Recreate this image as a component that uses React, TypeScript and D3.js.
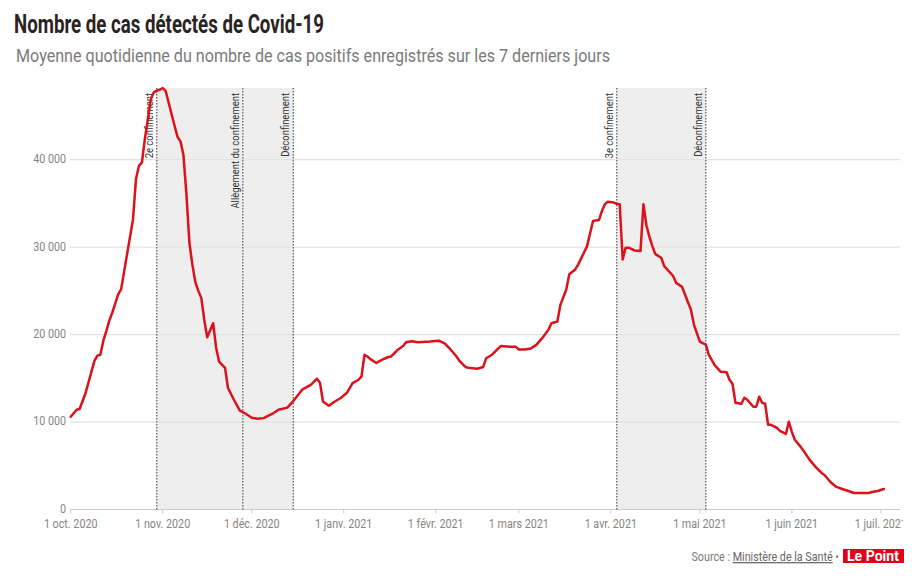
import * as d3 from 'd3';

// 7-day average of positive cases
const dates = [
  '2020-10-01', '2020-10-03', '2020-10-04', '2020-10-06', '2020-10-09', '2020-10-10', '2020-10-11',
  '2020-10-12', '2020-10-13', '2020-10-14', '2020-10-15', '2020-10-17', '2020-10-18', '2020-10-20',
  '2020-10-22', '2020-10-23', '2020-10-24', '2020-10-25', '2020-10-26', '2020-10-28', '2020-10-29',
  '2020-10-30', '2020-10-31', '2020-11-01', '2020-11-02', '2020-11-04', '2020-11-06', '2020-11-07',
  '2020-11-08', '2020-11-09', '2020-11-10', '2020-11-11', '2020-11-12', '2020-11-13', '2020-11-14',
  '2020-11-15', '2020-11-16', '2020-11-18', '2020-11-19', '2020-11-20', '2020-11-22', '2020-11-23',
  '2020-11-25', '2020-11-27', '2020-11-29', '2020-12-01', '2020-12-03', '2020-12-05', '2020-12-08',
  '2020-12-10', '2020-12-13', '2020-12-15', '2020-12-18', '2020-12-21', '2020-12-23', '2020-12-24',
  '2020-12-25', '2020-12-27', '2020-12-29', '2020-12-31', '2021-01-02', '2021-01-04', '2021-01-06',
  '2021-01-07', '2021-01-08', '2021-01-09', '2021-01-10', '2021-01-12', '2021-01-14', '2021-01-16',
  '2021-01-17', '2021-01-19', '2021-01-21', '2021-01-22', '2021-01-24', '2021-01-26', '2021-01-30',
  '2021-02-02', '2021-02-04', '2021-02-06', '2021-02-08', '2021-02-09', '2021-02-11', '2021-02-12',
  '2021-02-15', '2021-02-17', '2021-02-18', '2021-02-20', '2021-02-22', '2021-02-23', '2021-02-26',
  '2021-02-28', '2021-03-01', '2021-03-03', '2021-03-05', '2021-03-07', '2021-03-09', '2021-03-11',
  '2021-03-12', '2021-03-14', '2021-03-15', '2021-03-17', '2021-03-18', '2021-03-20', '2021-03-21',
  '2021-03-24', '2021-03-26', '2021-03-28', '2021-03-29', '2021-03-30', '2021-03-31', '2021-04-02',
  '2021-04-03', '2021-04-04', '2021-04-05', '2021-04-06', '2021-04-07', '2021-04-09', '2021-04-11',
  '2021-04-12', '2021-04-13', '2021-04-14', '2021-04-15', '2021-04-16', '2021-04-18', '2021-04-19',
  '2021-04-22', '2021-04-23', '2021-04-25', '2021-04-27', '2021-04-28', '2021-04-29', '2021-05-01',
  '2021-05-03', '2021-05-04', '2021-05-06', '2021-05-08', '2021-05-10', '2021-05-11', '2021-05-12',
  '2021-05-13', '2021-05-15', '2021-05-16', '2021-05-17', '2021-05-19', '2021-05-20', '2021-05-21',
  '2021-05-22', '2021-05-23', '2021-05-24', '2021-05-25', '2021-05-27', '2021-05-28', '2021-05-30',
  '2021-05-31', '2021-06-01', '2021-06-02', '2021-06-04', '2021-06-05', '2021-06-07', '2021-06-09',
  '2021-06-11', '2021-06-12', '2021-06-14', '2021-06-16', '2021-06-18', '2021-06-20', '2021-06-22',
  '2021-06-25', '2021-06-27', '2021-06-28', '2021-06-30', '2021-07-02',
];

const cases = [
  10600, 11400, 11500, 13300, 17000, 17600, 17700,
  19300, 20400, 21600, 22500, 24600, 25200, 29200,
  33200, 37800, 39300, 39700, 42400, 46900, 47700,
  47900, 48000, 48200, 47850, 45200, 42600, 42100,
  40500, 36000, 30500, 28000, 26000, 25000, 24200,
  21700, 19700, 21300, 18500, 16900, 16200, 13900,
  12550, 11300, 10950, 10500, 10370, 10450, 10950,
  11400, 11650, 12400, 13700, 14270, 14960, 14500,
  12350, 11860, 12350, 12750, 13320, 14460, 14840,
  15220, 17700, 17500, 17200, 16760, 17130, 17440,
  17500, 18200, 18700, 19120, 19230, 19120, 19200,
  19300, 19000, 18300, 17500, 17000, 16300, 16200,
  16100, 16300, 17300, 17700, 18400, 18700, 18600,
  18600, 18300, 18300, 18400, 18850, 19650, 20570,
  21300, 21500, 23400, 25150, 26900, 27450, 28000,
  30120, 32990, 33100, 34130, 34900, 35200, 35100,
  34950, 34900, 28600, 29940, 29940, 29630, 29550,
  34900, 32500, 31200, 30120, 29200, 28790, 27830,
  26700, 25920, 25470, 23700, 22850, 21150, 19200,
  18850, 17700, 16500, 15760, 15700, 14840, 14380,
  12200, 12100, 12780, 12550, 11750, 11750, 12890,
  12200, 12100, 9680, 9680, 9340, 9000, 8650,
  10030, 8880, 7970, 7160, 6700, 5670, 4870,
  4180, 3950, 3150, 2580, 2350, 2120, 1890,
  1880, 1900, 2000, 2120, 2350,
];

const yTicks = [0, 10000, 20000, 30000, 40000];

const monthTicks = [
  '2020-10-01', '2020-11-01', '2020-12-01', '2021-01-01', '2021-02-01',
  '2021-03-01', '2021-04-01', '2021-05-01', '2021-06-01', '2021-07-01',
];
const monthLabels = [
  '1 oct. 2020', '1 nov. 2020', '1 déc. 2020', '1 janv. 2021', '1 févr. 2021',
  '1 mars 2021', '1 avr. 2021', '1 mai 2021', '1 juin 2021', '1 juil. 2021',
];

// shaded lockdown periods
const periodStarts = ['2020-10-30', '2021-04-03'];
const periodEnds = ['2020-12-15', '2021-05-03'];

const eventDates = ['2020-10-30', '2020-11-28', '2020-12-15', '2021-04-03', '2021-05-03'];
const eventLabels = [
  '2e confinement',
  'Allègement du confinement',
  'Déconfinement',
  '3e confinement',
  'Déconfinement',
];

const parse = d3.utcParse('%Y-%m-%d');
const FONT = 'Roboto, "Noto Sans", sans-serif';
const NARROW = 0.86;

export default function App() {
  const width = 918;
  const height = 581;
  const plotTop = 88;
  const plotBottom = 509.5;
  const gridLeft = 70;
  const gridRight = 900;

  const x = d3
    .scaleUtc()
    .domain([parse('2020-10-01')!, parse('2021-07-03')!])
    .range([70.7, 886.8]);

  const y = d3.scaleLinear().domain([0, 48200]).range([plotBottom, plotTop]);

  const points = dates.map((d, i) => ({ date: parse(d)!, value: cases[i] }));

  const line = d3
    .line<{ date: Date; value: number }>()
    .x((d) => x(d.date))
    .y((d) => y(d.value))
    .curve(d3.curveLinear);

  const fmt = (v: number) => d3.format(',')(v).replace(/,/g, ' ');

  return (
    <div style={{ position: 'absolute', left: 0, top: 0 }}>
      <svg width={width} height={height} style={{ display: 'block', fontFamily: FONT }}>
        <defs>
          <clipPath id='chart-clip'>
            <rect x={0} y={0} width={903} height={height} />
          </clipPath>
        </defs>

        <text
          x={14}
          y={33}
          fontSize={26}
          fontWeight={700}
          fill='#2a2322'
          textLength={310}
          lengthAdjust='spacingAndGlyphs'
        >
          Nombre de cas détectés de Covid-19
        </text>
        <text
          x={16}
          y={62}
          fontSize={18}
          fill='#7a7a7a'
          textLength={594}
          lengthAdjust='spacingAndGlyphs'
        >
          Moyenne quotidienne du nombre de cas positifs enregistrés sur les 7 derniers jours
        </text>

        {periodStarts.map((s, i) => (
          <rect
            key={s}
            x={x(parse(s)!)}
            y={plotTop}
            width={x(parse(periodEnds[i])!) - x(parse(s)!)}
            height={plotBottom - plotTop}
            fill='#eeeeee'
          />
        ))}

        {yTicks.map((t) => (
          <g key={t}>
            <line
              x1={gridLeft}
              x2={gridRight}
              y1={y(t)}
              y2={y(t)}
              stroke={t === 0 ? '#cccccc' : '#e2e2e2'}
              strokeWidth={1.2}
            />
            <text
              transform={`translate(66,${y(t) - 1}) scale(${NARROW},1)`}
              dy='0.35em'
              textAnchor='end'
              fontSize={12.5}
              fill='#858585'
            >
              {fmt(t)}
            </text>
          </g>
        ))}

        {eventDates.map((d, i) => {
          const ex = x(parse(d)!);
          return (
            <g key={d + i}>
              <line
                x1={ex}
                x2={ex}
                y1={plotTop}
                y2={plotBottom}
                stroke='#555555'
                strokeWidth={1.2}
                strokeDasharray='1.5,1.5'
              />
              <text
                transform={`translate(${ex - 4},93) rotate(-90) scale(${NARROW},1)`}
                textAnchor='end'
                fontSize={11}
                fill='#333333'
              >
                {eventLabels[i]}
              </text>
            </g>
          );
        })}

        <path
          d={line(points) ?? ''}
          fill='none'
          stroke='#d9121b'
          strokeWidth={2.5}
          strokeLinejoin='round'
          strokeLinecap='round'
        />

        <g clipPath='url(#chart-clip)'>
          {monthTicks.map((m, i) => {
            const tx = x(parse(m)!);
            return (
              <g key={m}>
                <line x1={tx} x2={tx} y1={plotBottom} y2={plotBottom + 4} stroke='#cccccc' />
                <text
                  transform={`translate(${tx},528) scale(${NARROW},1)`}
                  textAnchor='middle'
                  fontSize={12.5}
                  fill='#858585'
                >
                  {monthLabels[i]}
                </text>
              </g>
            );
          })}
        </g>

        <text
          transform={`translate(839,561) scale(${NARROW},1)`}
          textAnchor='end'
          fontSize={12.5}
          fill='#7a7a7a'
        >
          Source :{' '}
          <tspan fill='#666666' textDecoration='underline'>
            Ministère de la Santé
          </tspan>{' '}
          •
        </text>
        <rect x={843} y={549} width={61} height={14} fill='#e2001a' />
        <text
          x={847}
          y={561}
          fontSize={14}
          fontWeight={700}
          fill='#ffffff'
          textLength={52}
          lengthAdjust='spacingAndGlyphs'
        >
          Le Point
        </text>
      </svg>
    </div>
  );
}
